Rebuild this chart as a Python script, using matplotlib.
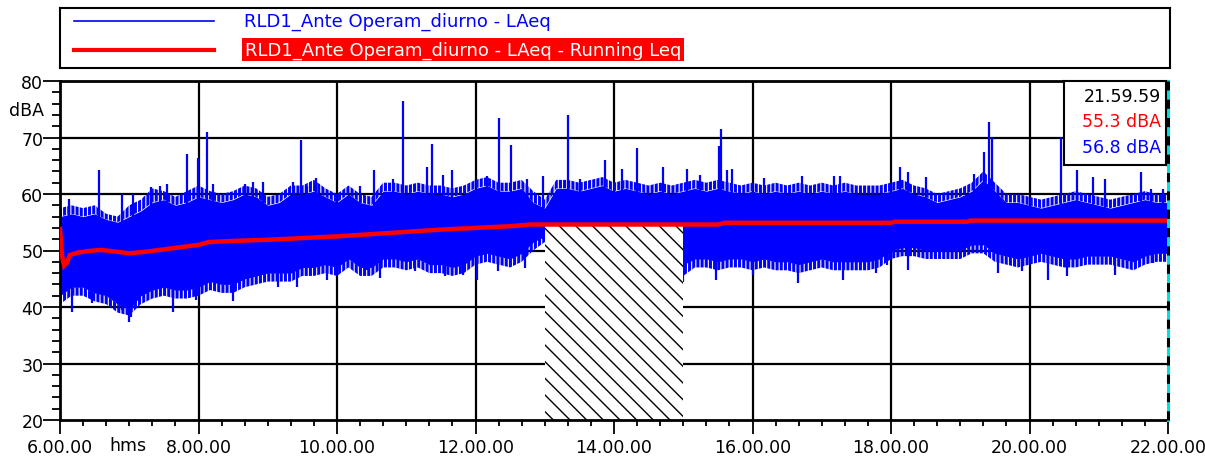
import matplotlib
matplotlib.use('Agg')
import matplotlib.pyplot as plt
import matplotlib.transforms as mtransforms
import numpy as np

plt.rcParams['font.family'] = ['DejaVu Sans']

# LAeq read every 10 minutes, 6.00 -> 22.00
# dense core of the trace
band_hi = [56, 56.5, 56, 56.5, 55.5, 55, 56, 57, 58.5, 59, 58, 58.5,
           59.5, 59, 58.5, 59, 60, 59.5, 58, 58.5, 60, 60, 60.5, 59.5,
           58.5, 60, 58.5, 58, 60.5, 60.5, 60, 60.5, 60, 60, 59.5, 60,
           61, 61.5, 60.5, 60.5, 61, 58.5, 57.5, 61, 61, 60.5, 61, 61.5,
           60.5, 61, 60.5, 60, 60.5, 60, 60.5, 61, 60.5, 61, 60.5, 60,
           60.5, 60, 60.5, 60, 60.5, 60, 60.5, 60, 60.5, 60, 60, 60,
           60.5, 61, 60, 59.5, 58.5, 59, 59.5, 60.5, 62.5, 60.5, 58.5, 58.5,
           58, 57.5, 58, 58.5, 59, 58.5, 58, 57.5, 58, 58.5, 59, 58.5, 58.5]
band_lo = [42, 43.5, 43.5, 42.5, 42, 40.5, 39.5, 42, 43, 43.5, 43, 43,
           43.5, 44.5, 44, 44, 45, 45.5, 46, 46, 46, 47, 47, 47.5,
           47, 48.5, 47, 47, 48.5, 48.5, 48, 48.5, 47.5, 47.5, 47, 47.5,
           49, 49.5, 49, 48.5, 49.5, 51.5, 52.5, 49, 49, 49, 49, 49,
           49, 49, 49, 49, 49, 49, 47.5, 48.5, 48.5, 48, 48.5, 48.5,
           48, 48.5, 48, 48, 47.5, 48, 48.5, 48, 48, 48, 48, 48.5,
           50, 50.5, 50.5, 50, 50, 50, 50, 51, 51, 49.5, 49, 48.5,
           49, 49.5, 49, 48.5, 48.5, 49, 49, 49, 48.5, 48, 49, 49.5, 49.5]
# outer fringe of the trace
fringe_hi = [57.5, 58, 57.5, 58, 56.5, 56, 58, 59, 61, 60.5, 59.5, 60.5,
             61.5, 60.5, 60, 60.5, 61.5, 61, 59.5, 60, 61.5, 61.5, 62.5, 61,
             60, 61.5, 60, 59.5, 62, 62, 61.5, 62, 61.5, 61.5, 61, 61.5,
             62.5, 63, 62, 62, 62.5, 60.5, 59, 62.5, 62.5, 62, 62.5, 63,
             62, 62.5, 62, 61.5, 62, 61.5, 62, 62.5, 62, 62.5, 62, 61.5,
             62, 61.5, 62, 61.5, 62, 61.5, 62, 61.5, 62, 61.5, 61.5, 61.5,
             62, 62.5, 61.5, 61, 60, 60.5, 61, 62, 64, 62, 60, 60,
             59.5, 59, 59.5, 60, 60.5, 60, 59.5, 59, 59.5, 60, 60.5, 60, 60]
fringe_lo = [40.5, 42, 42, 41, 40.5, 39, 38.5, 40.5, 41.5, 42, 41.5, 41.5,
             42, 43, 42.5, 42.5, 43.5, 44, 44.5, 44.5, 44.5, 45.5, 45.5, 46,
             45.5, 47, 45.5, 45.5, 47, 47, 46.5, 47, 46, 46, 45.5, 46,
             47.5, 48, 47.5, 47, 48, 50, 51.5, 47.5, 47.5, 47.5, 47.5, 47.5,
             47.5, 47.5, 47.5, 47.5, 47.5, 47.5, 45.5, 47, 47, 46.5, 47, 47,
             46.5, 47, 46.5, 46.5, 46, 46.5, 47, 46.5, 46.5, 46.5, 46.5, 47,
             48.5, 49, 49, 48.5, 48.5, 48.5, 48.5, 49.5, 49.5, 48, 47.5, 47,
             47.5, 48, 47.5, 47, 47, 47.5, 47.5, 47.5, 47, 46.5, 47.5, 48, 48]

# single peaks above the trace (hour, dBA)
peak_t = [6.135, 6.57, 6.89, 7.05, 7.32, 7.44, 7.54, 7.84, 7.99, 8.12, 8.21, 8.67,
          8.79, 8.93, 9.37, 9.48, 9.56, 9.70, 10.33, 10.53, 10.81, 10.96, 11.30, 11.37,
          11.53, 11.66, 12.16, 12.34, 12.51, 12.74, 12.98, 13.33, 13.51, 13.87, 14.11, 14.33,
          14.71, 15.06, 15.24, 15.51, 15.54, 15.63, 15.71, 16.16, 16.71, 17.17, 17.27, 18.13,
          18.25, 18.51, 19.20, 19.35, 19.41, 19.46, 20.45, 20.68, 20.92, 21.09, 21.61, 21.76,
          21.93]
peak_v = [59.1, 64.2, 60.0, 60.0, 61.2, 61.5, 61.8, 67.1, 66.3, 70.9, 61.8, 61.8,
          62.1, 62.1, 62.1, 69.5, 61.5, 62.8, 61.5, 64.2, 62.7, 76.5, 64.8, 68.9,
          63.4, 64.2, 63.2, 73.5, 68.7, 62.7, 63.2, 73.9, 62.7, 66.0, 64.5, 68.2,
          64.8, 64.5, 63.4, 68.5, 71.5, 64.2, 64.5, 62.8, 63.2, 63.2, 63.2, 64.8,
          63.9, 63.0, 63.6, 67.4, 72.8, 70.1, 70.1, 64.2, 63.0, 62.7, 63.9, 60.9,
          60.9]

# single dips below the trace (hour, dBA)
dip_t = [6.17, 6.46, 6.89, 6.99, 7.03, 7.63, 7.96, 8.50, 9.15, 9.42, 9.85, 9.99,
         10.43, 10.62, 11.13, 11.56, 11.82, 12.02, 12.32, 12.71, 15.00, 15.48, 16.01, 16.66,
         17.31, 17.79, 17.94, 18.25, 18.64, 19.55, 19.89, 20.27, 20.54, 21.24, 21.79]
dip_v = [39.2, 40.7, 39.5, 37.4, 38.3, 39.2, 41.3, 41.0, 43.6, 43.6, 44.8, 46.3,
         46.6, 45.1, 46.3, 45.4, 45.7, 44.8, 46.3, 46.9, 44.5, 44.8, 45.7, 44.3,
         44.8, 46.0, 47.5, 46.6, 49.0, 46.0, 46.3, 44.8, 45.4, 45.7, 47.8]

# running Leq
leq_t = [6.0, 6.03, 6.06, 6.1, 6.14, 6.25, 6.4, 6.6, 6.8, 7.0, 7.25, 7.5, 7.75, 8.0, 8.15,
         8.5, 9.0, 9.5, 10.0, 10.5, 11.0, 11.5, 12.0, 12.5, 12.8, 13.0, 15.5, 15.6, 17.0,
         18.0, 18.05, 19.1, 19.15, 22.0]
leq_v = [53.8, 49.0, 47.3, 47.8, 49.2, 49.6, 49.9, 50.1, 49.8, 49.5, 49.8, 50.2, 50.6, 51.0, 51.5,
         51.7, 51.9, 52.2, 52.5, 52.9, 53.3, 53.7, 54.0, 54.3, 54.6, 54.6, 54.6, 54.9, 54.9,
         54.9, 55.1, 55.1, 55.3, 55.3]

gap_start, gap_end = 13.0, 15.0
cursor_time = '21.59.59'
cursor_leq = '55.3 dBA'
cursor_laeq = '56.8 dBA'
series_names = ['RLD1_Ante Operam_diurno - LAeq', 'RLD1_Ante Operam_diurno - LAeq - Running Leq']

BLUE = '#0000ff'
RED = '#ff0000'
FS = 12.5

band_t = 6 + np.arange(len(band_hi)) / 6.0

fig = plt.figure(figsize=(12.05, 4.6), dpi=100)
ax = fig.add_axes([60 / 1205, 39 / 460, 1108 / 1205, 339 / 460])

# grid under the data
for h in range(8, 22, 2):
    ax.axvline(h, color='black', lw=1.6, zorder=0)
for v in range(30, 80, 10):
    ax.axhline(v, color='black', lw=1.6, zorder=0)

# fringe drawn as dense vertical strokes, core solid
for lo, hi in [(band_hi, fringe_hi), (fringe_lo, band_lo)]:
    xs = np.concatenate([band_t, band_t[::-1]])
    ys = np.concatenate([lo, hi[::-1]])
    p = ax.fill(xs, ys, facecolor='none', edgecolor=BLUE, hatch='||||', lw=0, zorder=1)[0]
    if hasattr(p, 'set_hatch_linewidth'):
        p.set_hatch_linewidth(2.2)
ax.fill_between(band_t, band_lo, band_hi, color=BLUE, lw=0, zorder=1)
ax.vlines(peak_t, 52, peak_v, color=BLUE, lw=1.6, zorder=1)
ax.vlines(dip_t, dip_v, 54, color=BLUE, lw=1.6, zorder=1)

# hatched gap below the running Leq
gap_top = np.interp(gap_start, leq_t, leq_v)
gap = ax.fill([gap_start, gap_end, gap_end, gap_start], [20, 20, gap_top, gap_top],
              facecolor='white', edgecolor='black', hatch='\\\\', lw=0, zorder=2)[0]
if hasattr(gap, 'set_hatch_linewidth'):
    gap.set_hatch_linewidth(1.0)

ax.plot(leq_t, leq_v, color=RED, lw=3.2, zorder=3, solid_joinstyle='miter')

# cursor at the end, in place of the right frame
ax.spines['right'].set_visible(False)
ax.axvline(22, color='#00e0e0', lw=2.2, zorder=4, clip_on=False)
ax.axvline(22, color='black', lw=2.2, ls=(0, (3, 3)), zorder=5, clip_on=False)

ax.set_xlim(6, 22)
ax.set_ylim(20, 80)
ax.set_xticks(range(6, 23, 2))
ax.set_xticklabels(['%d.00.00' % h for h in range(6, 23, 2)])
ax.set_xticks(np.arange(6, 22.01, 1 / 3), minor=True)
ax.set_yticks(range(20, 81, 10))
ax.set_yticks(range(20, 81, 2), minor=True)
ax.tick_params(which='both', direction='out', width=1.3, labelsize=FS)
ax.tick_params(axis='x', which='major', length=10, pad=3)
ax.tick_params(axis='x', which='minor', length=4.5)
ax.tick_params(axis='y', which='major', length=12, pad=0)
ax.tick_params(axis='y', which='minor', length=6)
for s in ax.spines.values():
    s.set_linewidth(2)

trans = mtransforms.blended_transform_factory(ax.transAxes, ax.transData)
ax.text(-16 / 1108, 74.9, 'dBA', transform=trans, ha='right', va='center', fontsize=FS)
ax.text(6.98, 15.6, 'hms', ha='center', va='center', fontsize=FS, clip_on=False)

# cursor readout box
box = fig.add_axes([1064 / 1205, (460 - 166) / 460, 102 / 1205, 84 / 460])
box.set_xticks([])
box.set_yticks([])
for s in box.spines.values():
    s.set_linewidth(1.5)
box.text(0.95, 0.82, cursor_time, ha='right', va='center', fontsize=FS, color='black')
box.text(0.95, 0.52, cursor_leq, ha='right', va='center', fontsize=FS, color=RED)
box.text(0.95, 0.22, cursor_laeq, ha='right', va='center', fontsize=FS, color=BLUE)

# legend box on top
leg = fig.add_axes([60 / 1205, (460 - 69) / 460, 1110 / 1205, 60 / 460])
leg.set_xlim(0, 1110)
leg.set_ylim(60, 0)
leg.set_xticks([])
leg.set_yticks([])
for s in leg.spines.values():
    s.set_linewidth(1.5)
leg.plot([14, 154], [13, 13], color=BLUE, lw=1.2)
leg.plot([14, 154], [42, 42], color=RED, lw=3)
leg.text(184, 13, series_names[0], ha='left', va='center', fontsize=13, color=BLUE)
leg.text(185, 41.5, series_names[1], ha='left', va='center', fontsize=13, color='white',
         bbox=dict(facecolor=RED, edgecolor='none', pad=2))

fig.savefig('out.png', dpi=100)
